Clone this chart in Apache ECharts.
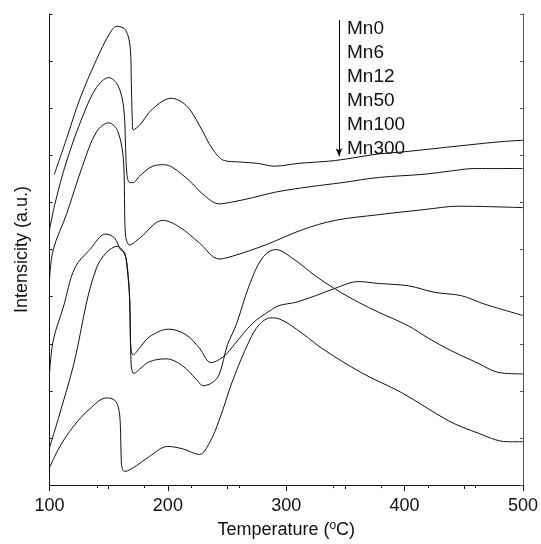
<!DOCTYPE html>
<html>
<head>
<meta charset="utf-8">
<script src="https://cdn.jsdelivr.net/npm/echarts@6/dist/echarts.min.js"></script>
<style>html,body{margin:0;padding:0;background:#fff;}#c{width:541px;height:544px;}</style>
</head>
<body>
<div id="c"></div>
<script>
var seriesNames = ['Mn0', 'Mn6', 'Mn12', 'Mn50', 'Mn100', 'Mn300'];
var xTickLabels = ['100', '200', '300', '400', '500'];

var mn0 = [[104.0,6.59],[114.5,7.36],[125.7,8.20],[139.7,9.03],[150.9,9.59],[157.0,9.74],[164.3,9.66],[168.3,9.25],[169.1,8.55],[170.0,7.72],[170.8,7.54],[176.1,7.64],[187.3,7.99],[202.8,8.21],[215.4,8.06],[226.6,7.64],[237.8,7.13],[247.6,6.89],[260.2,6.86],[275.6,6.83],[289.7,6.77],[310.7,6.83],[341.5,6.89],[378.0,7.03],[397.6,7.07],[453.7,7.22],[481.7,7.29],[500,7.32]];
var mn6 = [[100,5.42],[104.6,5.97],[114.5,6.88],[128.4,7.85],[139.7,8.44],[150.0,8.65],[157.9,8.48],[162.7,8.00],[164.3,7.15],[165.4,6.60],[167.7,6.42],[170.5,6.42],[176.1,6.56],[187.3,6.77],[197.1,6.80],[204.1,6.74],[218.2,6.46],[229.4,6.18],[243.4,5.97],[254.6,6.01],[271.4,6.10],[291.1,6.22],[319.1,6.33],[347.1,6.42],[378.0,6.53],[417.2,6.60],[439.6,6.67],[459.3,6.72],[500,6.72]];
var mn12 = [[100,4.38],[103.2,5.00],[114.5,5.76],[128.4,6.81],[139.7,7.50],[150.0,7.69],[157.9,7.50],[162.7,6.81],[163.5,5.83],[164.3,5.28],[167.7,5.10],[176.1,5.24],[195.7,5.62],[209.7,5.48],[226.6,5.14],[243.4,4.80],[254.6,4.86],[282.7,5.10],[313.5,5.42],[341.5,5.62],[378.0,5.74],[417.2,5.85],[445.3,5.92],[500,5.89]];
var mn50 = [[100,2.37],[103.2,3.08],[111.6,3.77],[121.4,4.61],[134.1,5.00],[147.5,5.33],[155.1,5.24],[159.9,5.00],[163.5,4.93],[166.3,4.51],[167.7,3.95],[168.3,3.19],[169.0,2.85],[170.5,2.77],[176.1,2.91],[184.5,3.15],[200.8,3.31],[215.4,3.19],[226.6,2.91],[236.4,2.60],[247.6,2.74],[256.0,2.98],[271.4,3.43],[285.5,3.69],[293.9,3.81],[307.9,3.88],[324.7,4.02],[341.5,4.18],[361.1,4.32],[378.0,4.28],[403.2,4.23],[425.7,4.09],[448.0,4.02],[467.7,3.84],[500,3.60]];
var mn100 = [[100,0.79],[107.4,1.41],[120.0,2.52],[139.7,4.61],[157.5,5.07],[163.5,4.90],[165.4,4.65],[167.7,3.96],[168.3,3.19],[168.8,2.67],[169.4,2.46],[171.3,2.37],[176.1,2.46],[184.5,2.62],[198.6,2.68],[212.5,2.53],[223.8,2.25],[229.9,2.11],[237.8,2.18],[243.4,2.35],[250.4,2.98],[257.7,3.40],[268.6,4.23],[279.8,4.82],[291.1,5.00],[305.0,4.82],[324.7,4.44],[341.5,4.16],[361.1,3.88],[378.0,3.67],[403.2,3.38],[420.0,3.12],[439.6,2.85],[459.3,2.62],[481.7,2.38],[500,2.36]];
var mn300 = [[100,0.37],[108.8,0.82],[120.0,1.24],[134.1,1.62],[148.1,1.85],[155.1,1.80],[158.7,1.59],[160.1,1.10],[160.7,0.47],[163.5,0.29],[173.3,0.41],[184.5,0.61],[199.9,0.82],[212.5,0.77],[226.6,0.65],[235.0,0.89],[243.4,1.38],[254.6,2.21],[268.6,3.05],[277.0,3.40],[286.9,3.55],[293.9,3.53],[313.5,3.22],[330.3,2.90],[363.9,2.38],[397.6,1.96],[436.8,1.37],[459.3,1.13],[487.3,0.92],[500,0.92]];
var arrowX = 344.6, arrowTop = 9.87, arrowBottom = 6.98;

var allData = [mn0, mn6, mn12, mn50, mn100, mn300];
var font = '"Liberation Sans", Arial, sans-serif';
var chart = echarts.init(document.getElementById('c'), null, {renderer: 'canvas'});

var series = allData.map(function (d, i) {
  var s = {
    name: seriesNames[i], type: 'line', data: d, showSymbol: false, symbol: 'none',
    smooth: 0.35,
    lineStyle: {color: '#111', width: 1}, silent: true, animation: false
  };
  if (i === 0) {
    s.markLine = {
      silent: true, symbol: ['none', 'arrow'], symbolSize: [5, 8],
      label: {show: false},
      lineStyle: {color: '#000', width: 1, type: 'solid'},
      data: [[{coord: [arrowX, arrowTop]}, {coord: [arrowX, arrowBottom]}]]
    };
  }
  return s;
});

var legendGraphics = seriesNames.map(function (n, i) {
  return {type: 'text', left: 347, top: 19 + i * 24,
    style: {text: n, font: '19px ' + font, fill: '#111'}};
});

chart.setOption({
  animation: false,
  backgroundColor: '#fff',
  grid: {left: 49.5, right: 16, top: 14, bottom: 51.5},
  xAxis: [{
    type: 'value', min: 100, max: 500, interval: 100, position: 'bottom',
    name: '{a|Temperature (}{s|o}{a|C)}', nameLocation: 'middle', nameGap: 32,
    nameTextStyle: {rich: {
      a: {fontSize: 18, fontFamily: font, color: '#111'},
      s: {fontSize: 12, fontFamily: font, color: '#111', padding: [0, 0, 8, 0]}
    }},
    axisLine: {lineStyle: {color: '#111', width: 1}},
    axisTick: {inside: false, length: 6, lineStyle: {color: '#111'}},
    minorTick: {show: true, splitNumber: 2, length: 4, lineStyle: {color: '#111'}},
    axisLabel: {margin: 12, fontSize: 18, fontFamily: font, color: '#111',
      formatter: function (v) { return xTickLabels.indexOf(String(v)) >= 0 ? String(v) : ''; }},
    splitLine: {show: false}
  }, {
    type: 'value', min: 100, max: 500, interval: 40, position: 'top',
    axisLine: {lineStyle: {color: '#111', width: 1}},
    axisTick: {inside: true, length: 3, lineStyle: {color: '#111'}},
    axisLabel: {show: false}, splitLine: {show: false}
  }],
  yAxis: [{
    type: 'value', min: 0, max: 10, interval: 1, position: 'left',
    name: 'Intensicity (a.u.)', nameLocation: 'middle', nameGap: 18,
    nameTextStyle: {fontSize: 18, fontFamily: font, color: '#111'},
    axisLine: {show: true, lineStyle: {color: '#111', width: 1}},
    axisTick: {show: true, inside: true, length: 3, lineStyle: {color: '#111'}},
    axisLabel: {show: false}, splitLine: {show: false}
  }, {
    type: 'value', min: 0, max: 10, interval: 1, position: 'right',
    axisLine: {show: true, lineStyle: {color: '#555', width: 1}},
    axisTick: {show: true, inside: true, length: 3, lineStyle: {color: '#555'}},
    axisLabel: {show: false}, splitLine: {show: false}
  }],
  graphic: legendGraphics,
  series: series
});
</script>
</body>
</html>
